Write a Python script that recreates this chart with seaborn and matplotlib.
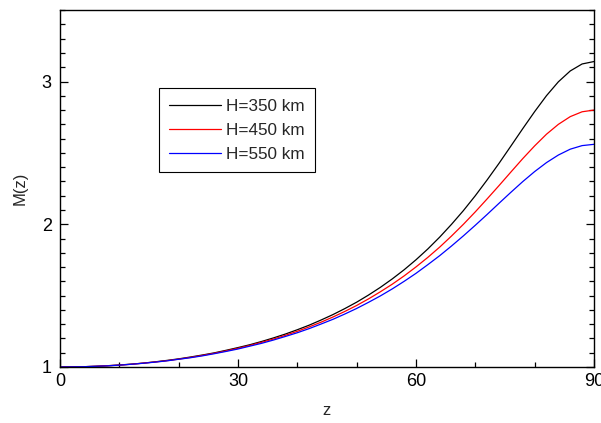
import numpy as np
import pandas as pd
import matplotlib
matplotlib.use("Agg")
import matplotlib.pyplot as plt
import seaborn as sns
from matplotlib.ticker import MultipleLocator

# zenith angle (degrees) and ionospheric mapping function for three shell heights
z = list(range(0, 91, 2))
m_350 = [1.000, 1.001, 1.002, 1.005, 1.009, 1.014, 1.020, 1.027,
         1.036, 1.046, 1.057, 1.070, 1.084, 1.099, 1.117, 1.136,
         1.156, 1.179, 1.204, 1.231, 1.261, 1.293, 1.329, 1.367,
         1.409, 1.454, 1.504, 1.558, 1.617, 1.681, 1.751, 1.827,
         1.910, 2.000, 2.096, 2.200, 2.311, 2.427, 2.548, 2.670,
         2.789, 2.901, 2.998, 3.074, 3.123, 3.140]
m_450 = [1.000, 1.001, 1.002, 1.005, 1.009, 1.013, 1.019, 1.027,
         1.035, 1.044, 1.055, 1.067, 1.081, 1.096, 1.113, 1.131,
         1.151, 1.173, 1.196, 1.222, 1.250, 1.281, 1.314, 1.350,
         1.389, 1.431, 1.477, 1.527, 1.580, 1.638, 1.701, 1.768,
         1.840, 1.918, 2.000, 2.087, 2.178, 2.271, 2.366, 2.460,
         2.549, 2.631, 2.700, 2.754, 2.788, 2.800]
m_550 = [1.000, 1.001, 1.002, 1.005, 1.008, 1.013, 1.019, 1.026,
         1.034, 1.043, 1.054, 1.065, 1.078, 1.093, 1.109, 1.126,
         1.146, 1.166, 1.189, 1.214, 1.240, 1.269, 1.301, 1.334,
         1.371, 1.410, 1.453, 1.498, 1.547, 1.600, 1.656, 1.717,
         1.780, 1.848, 1.919, 1.993, 2.069, 2.147, 2.224, 2.299,
         2.369, 2.432, 2.485, 2.526, 2.551, 2.560]
labels = ["H=350 km", "H=450 km", "H=550 km"]
colors = ["#000000", "#ff0000", "#0000ff"]

df = pd.concat([
    pd.DataFrame({"z": z, "M": vals, "H": lab})
    for vals, lab in zip([m_350, m_450, m_550], labels)
])

sns.set_style("white")
plt.rcParams["font.family"] = ["Liberation Sans", "DejaVu Sans"]

fig = plt.figure(figsize=(6.01, 4.23), dpi=100)
ax = fig.add_axes([0.0998, 0.1324, 0.8885, 0.8436])
sns.lineplot(data=df, x="z", y="M", hue="H", palette=colors,
             linewidth=0.9, ax=ax, legend=True)

ax.set_xlim(0, 90)
ax.set_ylim(1, 3.5)
ax.xaxis.set_major_locator(MultipleLocator(30))
ax.xaxis.set_minor_locator(MultipleLocator(10))
ax.yaxis.set_major_locator(MultipleLocator(1))
ax.yaxis.set_minor_locator(MultipleLocator(0.1))
ax.tick_params(which="both", direction="in", top=False, right=True,
               bottom=True, left=True, width=0.9, colors="black",
               labelsize=13)
ax.tick_params(which="major", length=6)
ax.tick_params(which="minor", length=3.5)
ax.tick_params(axis="x", which="major", pad=4)
ax.tick_params(axis="y", which="major", pad=6)
for sp in ax.spines.values():
    sp.set_color("black")
    sp.set_linewidth(1.0)

ax.set_xlabel("z", fontsize=12, labelpad=10)
ax.set_ylabel("M(z)", fontsize=12, labelpad=10)

leg = ax.legend(loc="upper left", bbox_to_anchor=(0.185, 0.781),
                borderaxespad=0, frameon=True, fancybox=False,
                fontsize=12.3, handlelength=3.0, handletextpad=0.3,
                labelspacing=0.52, borderpad=0.62)
leg.get_frame().set_edgecolor("black")
leg.get_frame().set_linewidth(0.8)
leg.get_frame().set_alpha(1)

fig.savefig("out.png", dpi=100)
